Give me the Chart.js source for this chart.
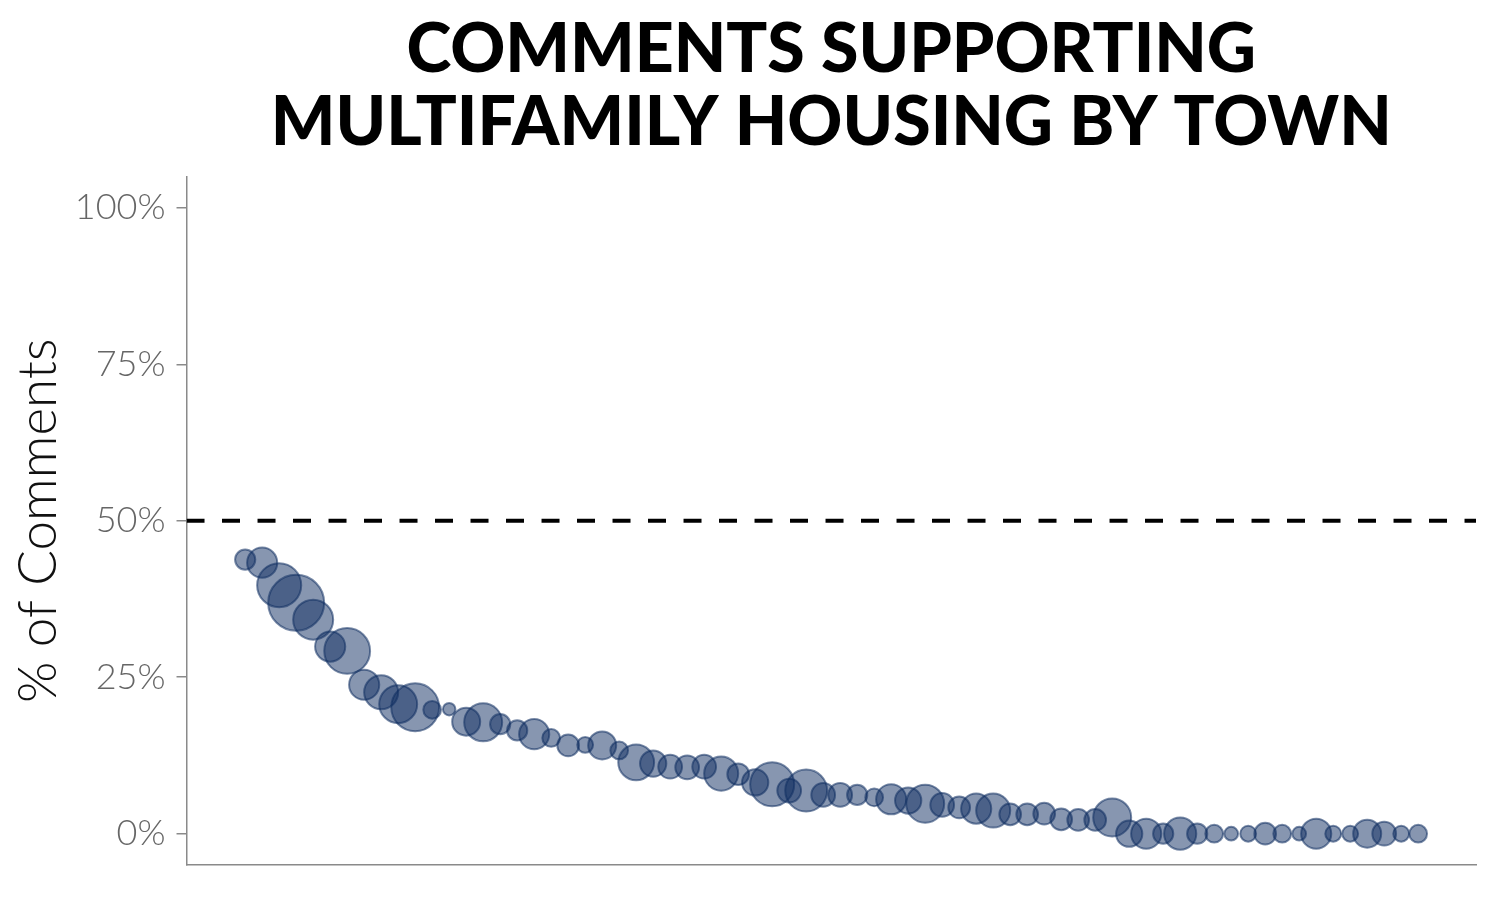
<!DOCTYPE html>
<html>
<head>
<meta charset="utf-8">
<script src="https://cdn.jsdelivr.net/npm/chart.js@4.4.1/dist/chart.umd.min.js"></script>
<style>
    html, body { margin: 0; padding: 0; background: #ffffff; }
    #wrap { width: 1500px; height: 900px; }
</style>
</head>
<body>
<div id="wrap"><canvas id="chart" width="1500" height="900"></canvas></div>
<script>
// Share of comments supporting multifamily housing, one value per town (sorted high to low)
const supportPct = [
    43.8, 43.3, 39.7, 36.9, 34.2, 29.9, 29.2, 23.8, 22.6, 20.7,
    20.2, 19.8, 19.9, 17.9, 17.8, 17.5, 16.5, 15.9, 15.3, 14.1,
    14.2, 14.1, 13.3, 11.4, 11.2, 10.7, 10.6, 10.7, 9.6, 9.5,
    8.2, 7.9, 6.9, 6.9, 6.2, 6.2, 6.2, 5.8, 5.5, 5.3,
    4.8, 4.6, 4.2, 4.0, 3.7, 3.1, 3.1, 3.2, 2.3, 2.2,
    2.2, 2.6, 0, 0, 0, 0, 0, 0, 0, 0,
    0, 0, 0, 0, 0, 0, 0, 0, 0, 0
];

// Number of comments per town (drives bubble area)
const commentCount = [
    13, 29, 62, 100, 51, 29, 67, 29, 37, 46,
    73, 10, 5, 25, 46, 13, 13, 29, 10, 15,
    8, 25, 10, 41, 22, 18, 18, 18, 37, 15,
    22, 62, 18, 56, 18, 18, 13, 10, 29, 22,
    46, 18, 15, 29, 37, 15, 15, 15, 15, 15,
    15, 46, 22, 29, 13, 33, 13, 10, 6, 8,
    15, 10, 6, 29, 8, 8, 25, 18, 8, 10
];

const yTicks = [0, 25, 50, 75, 100];
const threshold = 50;

const xMin = -2.45;
const xMax = 73.4;

const bubbles = supportPct.map((v, i) => ({ x: i + 1, y: v, n: commentCount[i] }));

new Chart(document.getElementById("chart"), {
    type: "bubble",
    data: {
        datasets: [
            {
                label: "Towns",
                data: bubbles,
                backgroundColor: "rgba(15, 45, 97, 0.5)",
                borderColor: "rgba(15, 45, 97, 0.55)",
                borderWidth: 2,
                radius: (ctx) => {
                    const p = ctx.raw;
                    return p ? 2.8 * Math.sqrt(p.n) : 0;
                },
            },
            {
                type: "line",
                label: "50%",
                data: [{ x: xMin, y: threshold }, { x: xMax, y: threshold }],
                borderColor: "#000000",
                borderWidth: 4,
                borderDash: [18, 17.5],
                pointRadius: 0,
                fill: false,
            },
        ],
    },
    options: {
        responsive: false,
        animation: false,
        events: [],
        layout: {
            autoPadding: false,
            padding: { left: 14, right: 24, bottom: 27, top: 0 },
        },
        scales: {
            x: {
                type: "linear",
                min: xMin,
                max: xMax,
                grid: { display: false },
                ticks: { display: false },
                border: { display: true, color: "#8a8a8a", width: 1.5 },
            },
            y: {
                min: -5,
                max: 105,
                afterBuildTicks: (axis) => {
                    axis.ticks = yTicks.map((v) => ({ value: v }));
                },
                grid: {
                    display: true,
                    drawOnChartArea: false,
                    drawTicks: true,
                    tickLength: 10,
                    color: "#8a8a8a",
                    lineWidth: 1.5,
                },
                border: { display: true, color: "#8a8a8a", width: 1.5 },
                ticks: {
                    padding: 11,
                    color: "#666666",
                    font: { family: "Lato", size: 36, weight: "300" },
                    callback: (v) => v + "%",
                },
                title: {
                    display: true,
                    text: "% of Comments",
                    color: "#111111",
                    font: { family: "Lato", size: 53, weight: "300", lineHeight: 0.94 },
                    padding: { top: 0, bottom: 0 },
                },
            },
        },
        plugins: {
            legend: { display: false },
            tooltip: { enabled: false },
            title: {
                display: true,
                fullSize: false,
                text: ["COMMENTS SUPPORTING", "MULTIFAMILY HOUSING BY TOWN"],
                color: "#000000",
                font: { family: "Lato", size: 68, weight: "900", lineHeight: 1.07 },
                padding: { top: 14, bottom: 17 },
            },
        },
    },
});
</script>
</body>
</html>
